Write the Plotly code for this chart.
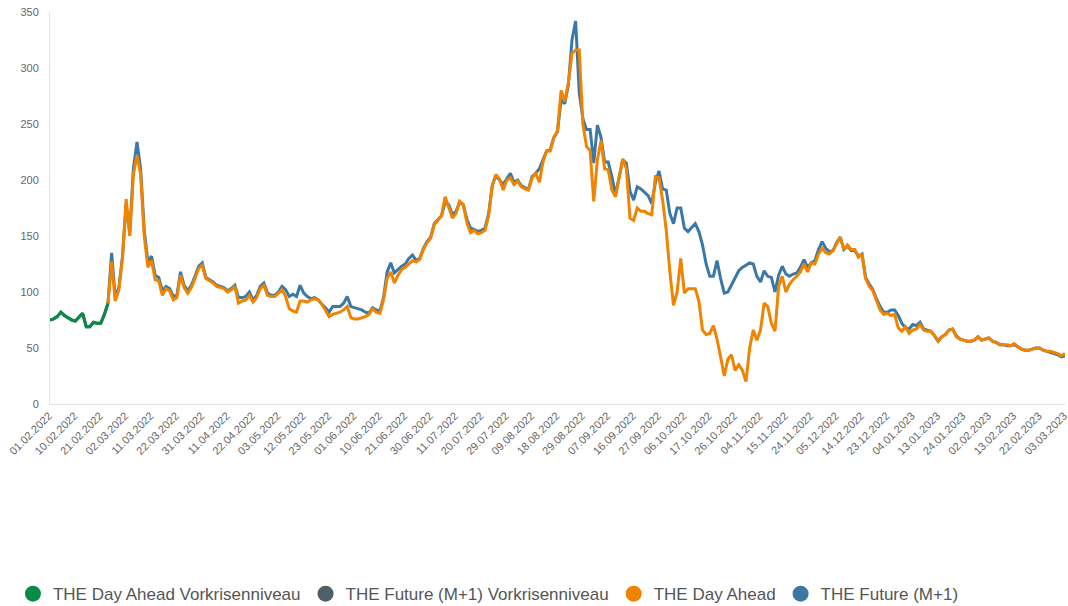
import pandas as pd
import plotly.graph_objects as go

# Trading days (category axis)
holidays = ["2022-04-15", "2022-04-18", "2022-12-26"]
days = [d for d in pd.bdate_range("2022-02-01", "2023-03-03") if d.strftime("%Y-%m-%d") not in holidays]
dates = [d.strftime("%d.%m.%Y") for d in days]

# Pre-crisis level (01.02.2022 - 23.02.2022)
da_pre = [75, 76, 78, 82, 79, 77, 75, 74, 78, 81, 69, 69, 73, 72, 72, 80, 90]
fut_pre = [75, 76, 78, 82, 79, 77, 75, 74, 78, 81, 69, 69, 73, 72, 72, 80, 90]

# THE Day Ahead from 23.02.2022
day_ahead = [
    90, 127, 92, 102, 130, 183, 150, 205, 222, 205, 150, 122, 128, 111, 110, 97, 103, 101, 93, 95,
    115, 104, 99, 104, 112, 121, 124, 112, 110, 108, 105, 104, 103, 100, 102, 105, 90, 92, 93, 97,
    91, 95, 103, 106, 97, 96, 96, 99, 102, 96, 85, 83, 82, 92, 92, 91, 93, 94, 93, 89,
    84, 78, 80, 81, 82, 84, 87, 77, 76, 76, 77, 78, 80, 85, 82, 81, 93, 112, 118, 108,
    115, 120, 122, 125, 128, 127, 129, 138, 144, 148, 160, 164, 168, 185, 176, 166, 170, 181, 178, 162,
    153, 155, 152, 153, 155, 168, 195, 205, 201, 191, 200, 202, 196, 199, 194, 192, 191, 202, 206, 198,
    216, 226, 226, 238, 244, 280, 270, 287, 313, 316, 316, 250, 230, 226, 181, 218, 235, 210, 209, 191,
    185, 202, 219, 210, 166, 164, 175, 172, 172, 170, 169, 203, 202, 182, 155, 118, 88, 100, 130, 99,
    103, 103, 103, 92, 66, 62, 63, 70, 58, 42, 25, 40, 44, 30, 35, 30, 20, 50, 66, 57,
    66, 90, 87, 72, 65, 105, 114, 100, 107, 111, 114, 118, 125, 118, 126, 125, 134, 139, 135, 134,
    137, 143, 149, 138, 142, 138, 138, 131, 134, 112, 105, 101, 92, 84, 80, 81, 79, 80, 68, 65,
    69, 63, 66, 67, 71, 66, 65, 65, 61, 56, 60, 62, 66, 67, 60, 58, 57, 56, 56, 57,
    60, 57, 58, 59, 56, 55, 53, 53, 53, 52, 54, 51, 49, 48, 48, 49, 50, 50, 48, 47,
    47, 46, 45, 43, 45,
]

# THE Future (M+1) from 23.02.2022
future = [
    90, 135, 95, 104, 132, 178, 153, 210, 234, 210, 155, 127, 132, 115, 113, 101, 105, 103, 96, 97,
    118, 106, 101, 106, 114, 123, 126, 113, 111, 109, 106, 105, 104, 101, 103, 106, 95, 95, 96, 100,
    93, 97, 105, 108, 99, 97, 97, 100, 105, 102, 96, 98, 96, 106, 99, 96, 94, 95, 93, 89,
    86, 82, 87, 87, 87, 90, 96, 87, 86, 85, 84, 82, 81, 86, 84, 83, 95, 118, 126, 117,
    120, 123, 125, 130, 133, 128, 130, 139, 145, 149, 161, 165, 168, 180, 178, 169, 172, 180, 178, 165,
    157, 156, 154, 155, 157, 170, 195, 204, 200, 196, 201, 206, 198, 200, 195, 193, 192, 203, 206, 210,
    218, 226, 227, 238, 243, 272, 268, 285, 325, 342, 278, 255, 245, 245, 215, 249, 238, 216, 216, 203,
    187, 203, 218, 215, 190, 182, 194, 192, 189, 186, 179, 198, 208, 192, 191, 170, 161, 175, 175, 157,
    154, 158, 161, 154, 142, 125, 114, 114, 128, 112, 99, 100, 106, 112, 119, 122, 124, 126, 125, 114,
    109, 119, 114, 113, 100, 115, 123, 116, 114, 116, 117, 122, 129, 122, 126, 128, 138, 145, 139, 136,
    137, 144, 149, 138, 141, 137, 137, 132, 134, 113, 107, 102, 94, 87, 82, 82, 84, 84, 79, 72,
    68, 67, 71, 70, 73, 67, 66, 65, 61, 56, 60, 62, 66, 67, 61, 58, 57, 56, 56, 57,
    60, 57, 58, 59, 56, 55, 53, 53, 52, 52, 53, 51, 49, 48, 48, 49, 50, 50, 48, 47,
    46, 45, 44, 42, 43,
]

names = ["THE Day Ahead Vorkrisenniveau", "THE Future (M+1) Vorkrisenniveau",
         "THE Day Ahead", "THE Future (M+1)"]
colors = ["#0a8a47", "#4f5f69", "#f08300", "#3b78a6"]

start = len(da_pre) - 1
x_pre = dates[:len(da_pre)]
x_main = dates[start:start + len(day_ahead)]

fig = go.Figure()
fig.add_trace(go.Scatter(x=x_pre, y=fut_pre, mode="lines", line=dict(color=colors[1], width=3),
                         showlegend=False, hoverinfo="skip"))
fig.add_trace(go.Scatter(x=x_pre, y=da_pre, mode="lines", line=dict(color=colors[0], width=3),
                         showlegend=False))
fig.add_trace(go.Scatter(x=x_main, y=future, mode="lines", line=dict(color=colors[3], width=3),
                         showlegend=False))
fig.add_trace(go.Scatter(x=x_main, y=day_ahead, mode="lines", line=dict(color=colors[2], width=3),
                         showlegend=False))

for n, c in zip(names, colors):
    fig.add_trace(go.Scatter(x=[None], y=[None], mode="markers", name=n,
                             marker=dict(color=c, size=16, symbol="circle")))

fig.update_layout(
    width=1068, height=606,
    margin=dict(l=50, r=3, t=12, b=202, autoexpand=False),
    paper_bgcolor="white", plot_bgcolor="white",
    font=dict(family="Liberation Sans, Arial, sans-serif", color="#666666", size=11),
    showlegend=True,
    legend=dict(orientation="h", x=-0.0365, xanchor="left", y=-0.485, yanchor="middle",
                font=dict(size=17, color="#555555"), itemwidth=30, tracegroupgap=0),
    xaxis=dict(type="category", categoryorder="array", categoryarray=dates,
               range=[0, len(dates) - 1], tickmode="array", tickvals=dates[::7],
               ticktext=dates[::7], tickangle=-45, showgrid=False, showline=True,
               linecolor="#e3e3e3", linewidth=1, ticks="", zeroline=False,
               ticklabelshift=-1, automargin=False, ticklabeloverflow="allow",
               tickfont=dict(size=11, color="#666666")),
    yaxis=dict(range=[0, 350], tickvals=[0, 50, 100, 150, 200, 250, 300, 350],
               showgrid=False, showline=True, linecolor="#e3e3e3", linewidth=1,
               zeroline=False, ticks="", ticklabelstandoff=8, automargin=False,
               ticklabeloverflow="allow",
               tickfont=dict(size=11, color="#666666")),
)

fig.write_html("out.html", config={"displayModeBar": False},
               post_script="document.body.style.margin='0';")
